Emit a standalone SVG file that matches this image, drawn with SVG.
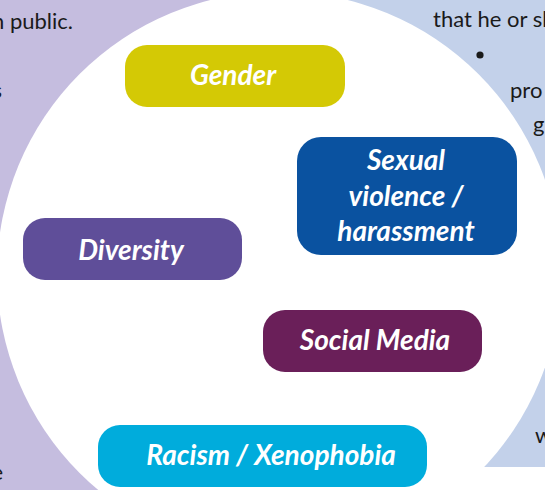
<svg xmlns="http://www.w3.org/2000/svg" width="545" height="490" viewBox="0 0 545 490">
<style>
.lbl{font-family:Lato,"Noto Sans",sans-serif;font-weight:bold;font-style:italic;font-size:28px;fill:#ffffff;text-anchor:middle}
.bg{font-family:Lato,"Noto Sans",sans-serif;font-size:22px;fill:#1a1a1a}
</style>
<rect x="0" y="0" width="545" height="490" fill="#ffffff"/>
<rect x="0" y="0" width="280" height="490" fill="#c5bddf"/>
<rect x="280" y="0" width="265" height="467" fill="#c3d1ea"/>
<circle cx="279" cy="273.5" r="282" fill="#ffffff"/>
<text class="bg" x="73" y="29" text-anchor="end">n public.</text>
<text class="bg" x="2" y="98" text-anchor="end">s</text>
<text class="bg" x="3" y="480" text-anchor="end">e</text>
<text class="bg" x="433" y="27">that he or sh</text>
<circle cx="480" cy="55" r="3.6" fill="#1a1a1a"/>
<text class="bg" x="510" y="98">pro</text>
<text class="bg" x="533" y="132">g</text>
<text class="bg" x="535" y="443">w</text>
<g id="connectors"></g>
<g id="gender">
<rect x="125" y="45" width="220" height="62" rx="22" fill="#d4c905"/>
<text class="lbl" x="233" y="85">Gender</text>
</g>
<g id="sexual-violence">
<rect x="297" y="137" width="220" height="118" rx="24" fill="#0a52a0"/>
<text class="lbl" x="406" y="170">Sexual</text>
<text class="lbl" x="406" y="206">violence /</text>
<text class="lbl" x="406" y="241">harassment</text>
</g>
<g id="diversity">
<rect x="23" y="218" width="219" height="62" rx="22" fill="#5f4e99"/>
<text class="lbl" x="131" y="260">Diversity</text>
</g>
<g id="social-media">
<rect x="263" y="310" width="219" height="62" rx="22" fill="#6a1f59"/>
<text class="lbl" x="375" y="350">Social Media</text>
</g>
<g id="racism">
<rect x="98" y="425" width="329" height="62" rx="22" fill="#00acdc"/>
<text class="lbl" x="271" y="465">Racism / Xenophobia</text>
</g>
</svg>
